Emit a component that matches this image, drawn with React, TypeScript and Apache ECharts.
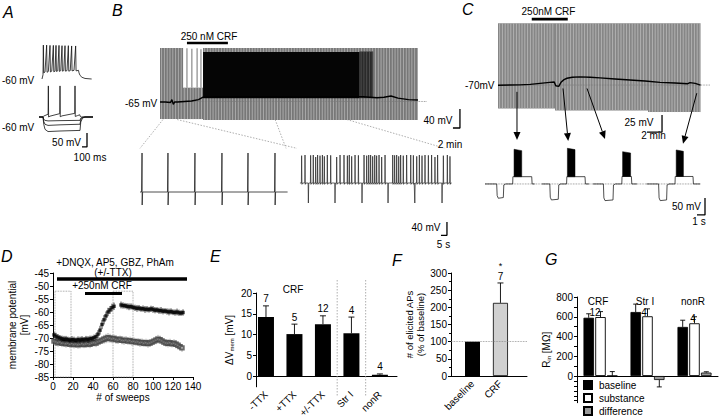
import React, { useEffect, useRef } from "react";
import * as echarts from "echarts";

const FONT = "'Liberation Sans', Arial, Helvetica, sans-serif";

/* ---------------- Panel A : responses to current steps (ms, mV) ---------------- */
const aTopT = [140,160,167,175,200,233,241,267,300,308,335,367,375,400,420,428,455,480,488,515,540,548,575,600,608,640,667,675,705,733,741,780,813,821,870,880,900,940,1000,1133];
const aTopV = [-60,-45,61,-38,-35,61,-36,-33,60,-35,-32,60,-34,-32,60,-33,-31,60,-33,-30,59,-32,-30,59,-32,-30,59,-32,-30,58,-31,-29,58,-31,-29,-38,-47,-54,-58,-60];
const aDepT = [80,160,170,262,267,272,300,495,500,505,540,795,800,805,850,895,905,930,1160];
const aDepV = [-60,-60,-57,-50,51,-60,-57,-48,51,-59,-56,-47,51,-58,-55,-52,-58,-60,-60];
const aHypT = [80,160,175,200,260,500,880,900,915,950,1000,1160];
const aHyp1V = [-60,-60,-68,-72,-74,-73,-72,-72,-64,-61,-60,-60];
const aHyp2V = [-60,-60,-76,-86,-90,-88,-86,-86,-70,-62,-60,-60];
const aHyp3V = [-60,-60,-86,-104,-112,-110,-108,-108,-78,-64,-60,-60];
const aScaleMv = 50;
const aScaleMs = 100;

/* ---------------- Panel B : long recording (min, mV) ---------------- */
const bBaseT = [0,1.5,3,3.4,3.8,4.2,5,7,9,11,12.3,14,20,30,40,50,58,62,64,66,68,71,73.7];
const bBaseV = [-66,-66,-67,-61,-71,-66,-66,-65,-64,-61,-56,-55.5,-55,-55,-55.5,-55,-55,-57,-56,-53.5,-58,-61,-62];
const bGrayRegions = [[0,6.6,-102,47.5],[6.6,12.3,-102,-36],[12.3,73.7,-104,47.5]];
const bSparseSpikes = [[7.7,-36,47],[9.1,-36,46],[10.6,-36,47],[11.7,-36,45]];
const bBlackRegions = [[12.3,57,-58,39]];
const bDarkRegions = [[57,60.9,-58,40]];
const bRestV = -65;
const bCrf = [7.7, 19.4];
const bScaleMv = 40;
const bScaleMin = 2;
const bZoomFromT = [0.86, 4.9, 32.9, 53.4];
const bZoomFromV = -103;
const bZoomToT = [0, 130.8, 121.7, 254.2];
const bZoomToV = 66;
/* B expanded traces (s, mV) */
const bLeftBaseV = -65;
const bLeftEnd = 123;
const bLeftSpikeT = [1.7, 23.3, 45.8, 68.3, 90, 112.5];
const bLeftPeak = 52;
const bLeftTrough = -104;
const bRightStart = 133.3;
const bRightEnd = 259.7;
const bRightBaseV = -38;
const bRightPulseT = [140.3, 162.5, 185, 206.7, 229, 251.7];
const bRightPulseV = -98;
const bRightSpikeT = [134.7,137.5,142.2,144.4,146.4,148,150,152,153.6,156.1,158.9,163.9,166.7,170,172.8,174.4,176.4,179.2,182,186.7,188.9,190.6,192.2,193.9,195.6,197.2,199.2,201.4,204.2,210.6,212.2,213.9,215.6,217.2,219.4,222.2,225.6,227.8,230.6,232.8,235,237.5,240.3,243,245.8,248,252.8,256.1,258.3];
const bRightSpikeV = [44,46,45,46,40,46,44,46,42,46,45,40,46,46,44,46,42,46,45,46,44,46,46,42,46,44,46,40,46,46,45,46,42,46,44,46,46,45,42,46,44,46,45,46,40,46,44,46,42];
const bScale2Mv = 40;
const bScale2S = 5;

/* ---------------- Panel C (min, mV) / sweeps (s, mV) ---------------- */
const cGrayRegions = [[0,7.6,-104.3,20.7],[7.6,20,-107.4,20.7],[20,27,-109.8,20.7]];
const cBaseT = [0,1.6,2.9,4.3,5.6,6.9,7.5,7.7,8.1,8.4,8.8,9.2,9.9,10.9,12.3,13.6,15.6,17.6,19.6,21.6,23.6,25.3,25.6,26.3,27];
const cBaseV = [-70.2,-70,-69.8,-69,-67.5,-66,-65.5,-71,-72,-66,-62,-60,-58.5,-58,-58.5,-59.5,-61,-62.5,-64,-66,-67,-68,-66.5,-67.5,-70];
const cRestV = -70;
const cCrf = [4.5, 9.3];
const cScaleMv = 25;
const cScaleMin = 2;
const cArrowFromT = [2.53, 8.67, 11.87, 26.5];
const cArrowFromV = [-80, -75, -75, -82];
const cArrowToT = [4.0, 10.4, 15.0, 24.75];
const cArrowToV = [59, 56, 62, 48];
const cSweepStart = [0, 7.1, 13.5, 20.2];
const cSweepEnd = [6.2, 13.0, 19.0, 26.9];
const cHypStart = [1.46, 8.1, 14.8, 21.7];
const cHypEnd = [2.29, 9.16, 16.0, 22.7];
const cHypV = [-112, -117, -119, -119];
const cDepStart = [3.46, 10.2, 17.1, 23.75];
const cDepEnd = [5.84, 12.5, 18.3, 26.0];
const cDepV = [-48.6, -48.6, -48, -48];
const cBurstStart = [3.63, 10.3, 17.2, 23.9];
const cBurstEnd = [4.59, 11.25, 18.2, 24.8];
const cBurstTop = [32, 35, 25, 30];
const cScale2Mv = 50;
const cScale2S = 1;

/* ---------------- Panel D : membrane potential vs sweeps ---------------- */
const dBlackX = [1,3,5,7,9,11,13,15,17,19,21,23,25,27,29,31,33,35,37,39,41,43,45,47,49,51,53,55,57,59,61,68,70,72,74,76,78,80,82,84,86,88,90,92,94,96,98,100,102,104,106,108,110,112,114,116,118,120,122,124,126,128,130];
const dBlackY = [-68.8,-69.3,-69.7,-70.0,-70.3,-70.5,-70.4,-70.6,-70.8,-70.6,-70.7,-70.9,-70.6,-70.8,-70.5,-70.7,-70.4,-70.6,-70.3,-70.2,-69.9,-69.5,-68.5,-67.0,-64.8,-63.0,-61.5,-60.0,-59.2,-58.3,-57.8,-57.3,-57.5,-57.6,-57.8,-58.0,-57.9,-58.2,-58.4,-58.6,-58.5,-58.8,-58.7,-59.0,-58.9,-59.1,-58.8,-59.0,-59.3,-59.2,-59.5,-59.4,-59.7,-59.6,-59.8,-60.0,-59.8,-60.1,-60.2,-60.0,-60.3,-60.4,-60.2];
const dBlackErr = [1.2,1.3,1.2,1.1,1.2,1.3,1.2,1.1,1.2,1.3,1.2,1.1,1.2,1.3,1.2,1.1,1.2,1.3,1.2,1.1,1.2,1.3,1.5,1.7,1.8,1.8,1.7,1.6,1.5,1.5,1.4,1.3,1.2,1.1,1.2,1.3,1.2,1.1,1.2,1.3,1.2,1.1,1.2,1.3,1.2,1.1,1.2,1.3,1.2,1.1,1.2,1.3,1.2,1.1,1.2,1.3,1.2,1.1,1.2,1.3,1.2,1.1,1.2];
const dGrayX = [1,3,5,7,9,11,13,15,17,19,21,23,25,27,29,31,33,35,37,39,41,43,45,47,49,51,53,55,57,59,61,63,65,67,69,71,73,75,77,79,81,83,85,87,89,91,93,95,97,99,101,103,105,107,109,111,113,115,117,119,121,123,125,127,129];
const dGrayY = [-71.2,-71.5,-71.8,-71.6,-72.0,-71.8,-72.2,-72.0,-72.4,-72.1,-72.5,-72.3,-72.6,-72.4,-72.2,-72.5,-72.3,-72.1,-72.4,-72.0,-71.8,-71.9,-71.5,-71.2,-70.8,-70.5,-70.2,-69.9,-70.1,-70.4,-70.2,-70.6,-70.8,-70.5,-70.9,-71.0,-70.8,-71.2,-71.0,-71.4,-71.3,-71.6,-71.5,-71.8,-71.7,-72.0,-71.8,-72.1,-71.9,-71.6,-71.2,-70.8,-70.5,-70.7,-71.1,-71.6,-71.9,-72.0,-71.8,-72.2,-72.0,-72.4,-72.8,-73.3,-73.8];
const dGrayErr = [1.5,1.6,1.5,1.4,1.5,1.6,1.5,1.4,1.5,1.6,1.5,1.4,1.5,1.6,1.5,1.4,1.5,1.6,1.5,1.4,1.5,1.6,1.5,1.4,1.5,1.7,1.8,1.8,1.7,1.6,1.5,1.6,1.5,1.4,1.5,1.6,1.5,1.4,1.5,1.6,1.5,1.4,1.5,1.6,1.5,1.4,1.5,1.6,1.5,1.4,1.5,1.6,1.7,1.6,1.5,1.4,1.5,1.6,1.5,1.4,1.5,1.6,1.5,1.4,1.5];
const dDrug = [4, 134];
const dDrugV = -47.3;
const dCrf = [32, 69];
const dCrfV = -52.7;
const dBoxes = [[2, 18], [60, 80]];
const dBoxTop = -52;

/* ---------------- Panel E ---------------- */
const eCats = ["-TTX", "+TTX", "+/-TTX", "Str I", "nonR"];
const eValues = [14.2, 10.1, 12.5, 10.3, 0.3];
const eErrors = [2.7, 2.4, 2.0, 3.9, 0.2];
const eN = ["7", "5", "12", "4", "4"];
const eSeparators = [2.5, 3.5];

/* ---------------- Panel F ---------------- */
const fCats = ["baseline", "CRF"];
const fValues = [100, 213];
const fErrors = [0, 58];
const fN = ["", "7"];
const fSig = ["", "*"];

/* ---------------- Panel G ---------------- */
const gCats = ["CRF", "Str I", "nonR"];
const gN = ["12", "4", "4"];
const gBaseline = [590, 648, 497];
const gBaselineErr = [40, 80, 68];
const gSubstance = [597, 605, 534];
const gSubstanceErr = [55, 75, 66];
const gDifference = [3, -40, 35];
const gDifferenceErr = [42, 70, 8];

/* ---------------- helpers ---------------- */
const zip = (xs: number[], ys: number[]) => xs.map((x, i) => [x, ys[i]]);

function trace(g: number, data: any[], color = "#000", width = 0.8, type: any = "solid", z = 3): any {
  return {
    type: "line", xAxisIndex: g, yAxisIndex: g, data, symbol: "none", showSymbol: false,
    silent: true, z, lineStyle: { color, width, type }, connectNulls: false,
  };
}

function scaleBar(g: number, x: number, top: number, dy: number, dx: number): any {
  return trace(g, [[x, top], [x, top - dy], [x - dx, top - dy]], "#000", 1.3, "solid", 5);
}

function regions(g: number, data: number[][], fill: string, stripe: string | null, z = 1): any {
  return {
    type: "custom", coordinateSystem: "cartesian2d", xAxisIndex: g, yAxisIndex: g, silent: true, z, data,
    renderItem: (_p: any, api: any) => {
      const a = api.coord([api.value(0), api.value(3)]);
      const b = api.coord([api.value(1), api.value(2)]);
      const children: any[] = [
        { type: "rect", shape: { x: a[0], y: a[1], width: b[0] - a[0], height: b[1] - a[1] }, style: { fill } },
      ];
      if (stripe) {
        for (let x = a[0] + 1.6; x < b[0] - 0.4; x += 2.8) {
          children.push({ type: "line", shape: { x1: x, y1: a[1], x2: x, y2: b[1] }, style: { stroke: stripe, lineWidth: 0.8 } });
        }
      }
      return { type: "group", children };
    },
  };
}

function strokes(g: number, data: number[][], color: string, width: number, z = 2): any {
  return {
    type: "custom", coordinateSystem: "cartesian2d", xAxisIndex: g, yAxisIndex: g, silent: true, z, data,
    renderItem: (_p: any, api: any) => {
      const a = api.coord([api.value(0), api.value(1)]);
      const b = api.coord([api.value(0), api.value(2)]);
      return { type: "line", shape: { x1: a[0], y1: a[1], x2: b[0], y2: b[1] }, style: { stroke: color, lineWidth: width } };
    },
  };
}

function bursts(g: number, data: number[][]): any {
  return {
    type: "custom", coordinateSystem: "cartesian2d", xAxisIndex: g, yAxisIndex: g, silent: true, z: 4, data,
    renderItem: (_p: any, api: any) => {
      const t0 = api.value(0), t1 = api.value(1), lo = api.value(2), hi = api.value(3);
      const pts = [api.coord([t0, lo]), api.coord([t0, hi]), api.coord([t1, hi - 4]), api.coord([t1, lo])];
      return { type: "polygon", shape: { points: pts }, style: { fill: "#000", stroke: "#000", lineWidth: 0.5 } };
    },
  };
}

function vErr(g: number, xs: number[], ys: number[], es: number[], color: string, width: number, z = 2): any {
  return {
    type: "custom", coordinateSystem: "cartesian2d", xAxisIndex: g, yAxisIndex: g, silent: true, z,
    data: xs.map((x, i) => [x, ys[i], es[i]]),
    renderItem: (_p: any, api: any) => {
      const x = api.value(0), y = api.value(1), e = api.value(2);
      const a = api.coord([x, y - e]);
      const b = api.coord([x, y + e]);
      return { type: "line", shape: { x1: a[0], y1: a[1], x2: b[0], y2: b[1] }, style: { stroke: color, lineWidth: width } };
    },
  };
}

function barErr(g: number, values: number[], errs: number[], offset: number, cap: number, labels: string[] | null, labels2: string[] | null, gap: number): any {
  return {
    type: "custom", coordinateSystem: "cartesian2d", xAxisIndex: g, yAxisIndex: g, silent: true, z: 6,
    data: values.map((v, i) => [i, v, errs[i]]),
    renderItem: (p: any, api: any) => {
      const i = p.dataIndex;
      const x = api.value(0), v = api.value(1), e = api.value(2);
      const dir = v < 0 ? -1 : 1;
      const p0 = api.coord([x, v]);
      const p1 = api.coord([x, v + dir * e]);
      const cx = p0[0] + offset;
      const children: any[] = [];
      const st = { stroke: "#000", lineWidth: 0.9 };
      if (e > 0) {
        children.push({ type: "line", shape: { x1: cx, y1: p0[1], x2: cx, y2: p1[1] }, style: st });
        children.push({ type: "line", shape: { x1: cx - cap, y1: p1[1], x2: cx + cap, y2: p1[1] }, style: st });
      }
      if (labels && labels[i]) {
        children.push({ type: "text", style: { text: labels[i], x: cx, y: p1[1] - gap, align: "center", verticalAlign: "middle", fontSize: 10, fontFamily: FONT, fill: "#000" } });
      }
      if (labels2 && labels2[i]) {
        children.push({ type: "text", style: { text: labels2[i], x: cx, y: p1[1] - gap - 11, align: "center", verticalAlign: "middle", fontSize: 9, fontFamily: FONT, fill: "#000" } });
      }
      return { type: "group", children };
    },
  };
}

function buildBLeft(): number[][] {
  const pts: number[][] = [[0, bLeftBaseV]];
  bLeftSpikeT.forEach((t) => {
    pts.push([t - 0.4, bLeftBaseV], [t, bLeftPeak], [t + 0.1, bLeftTrough], [t + 0.5, bLeftBaseV]);
  });
  pts.push([bLeftEnd, bLeftBaseV]);
  return pts;
}

function buildBRight(): number[][] {
  const ev: any[] = [];
  bRightSpikeT.forEach((t, i) => ev.push({ t, k: "s", v: bRightSpikeV[i] }));
  bRightPulseT.forEach((t) => ev.push({ t, k: "p", v: bRightPulseV }));
  ev.sort((a, b) => a.t - b.t);
  const pts: number[][] = [[bRightStart, bRightBaseV]];
  ev.forEach((e) => {
    if (e.k === "s") pts.push([e.t - 0.2, bRightBaseV], [e.t, e.v], [e.t + 0.25, bRightBaseV - 4], [e.t + 0.7, bRightBaseV]);
    else pts.push([e.t - 0.2, bRightBaseV], [e.t, e.v], [e.t + 0.3, bRightBaseV]);
  });
  pts.push([bRightEnd, bRightBaseV]);
  return pts;
}

function buildCSweep(i: number): number[][] {
  return [
    [cSweepStart[i], cRestV], [cHypStart[i], cRestV], [cHypStart[i] + 0.06, cHypV[i] + 8],
    [cHypStart[i] + 0.2, cHypV[i]], [cHypEnd[i], cHypV[i] + 2], [cHypEnd[i] + 0.06, cRestV - 3],
    [cHypEnd[i] + 0.3, cRestV], [cDepStart[i], cRestV], [cDepStart[i] + 0.03, cDepV[i]],
    [cDepEnd[i], cDepV[i]], [cDepEnd[i] + 0.05, cRestV], [cSweepEnd[i], cRestV],
  ];
}

const axBase = {
  axisLine: { show: true, onZero: false, lineStyle: { color: "#000", width: 1 } },
  axisTick: { show: true, length: 3, lineStyle: { color: "#000", width: 1 } },
  axisLabel: { color: "#000", fontSize: 10, fontFamily: FONT, margin: 4 },
  splitLine: { show: false },
  nameTextStyle: { color: "#000", fontSize: 10, fontFamily: FONT },
};

function buildOption(): any {
  const gridDefs = [
    { left: 35, top: 39.8, width: 65, height: 50.4 },
    { left: 35, top: 83.4, width: 65, height: 67.2 },
    { left: 160, top: 35.9, width: 308, height: 94.1 },
    { left: 140, top: 145, width: 320.4, height: 95 },
    { left: 498, top: 15, width: 213.75, height: 119.7 },
    { left: 485, top: 135, width: 224.8, height: 85 },
    { left: 53, top: 273, width: 140, height: 104 },
    { left: 256, top: 293, width: 141, height: 93.8 },
    { left: 451, top: 273, width: 76, height: 103 },
    { left: 577, top: 297, width: 141, height: 105.7 },
  ];
  const grid = gridDefs.map((g) => ({ ...g, containLabel: false, outerBoundsMode: "none" }));
  const hx = (g: number, min: number, max: number) => ({ type: "value", gridIndex: g, min, max, show: false });

  const xAxis: any[] = [
    hx(0, 0, 1300), hx(1, 0, 1300), hx(2, 0, 88), hx(3, 0, 267), hx(4, 0, 28.5), hx(5, 0, 28.1),
    {
      ...axBase, type: "value", gridIndex: 6, min: 0, max: 140, interval: 20,
      name: "# of sweeps", nameLocation: "middle", nameGap: 15,
    },
    {
      ...axBase, type: "value", gridIndex: 7, min: -0.35, max: 4.6,
      axisLine: { show: true, onZero: true, lineStyle: { color: "#000", width: 1 } },
      axisTick: { show: false },
      axisLabel: { ...axBase.axisLabel, rotate: 45, margin: 6, customValues: [0, 1, 2, 3, 4], formatter: (v: number) => eCats[Math.round(v)] ?? "" },
    },
    {
      ...axBase, type: "value", gridIndex: 8, min: -0.77, max: 1.95,
      axisLine: { show: true, onZero: true, lineStyle: { color: "#000", width: 1 } },
      axisTick: { show: false },
      axisLabel: { ...axBase.axisLabel, rotate: 45, margin: 6, customValues: [0, 1], formatter: (v: number) => fCats[Math.round(v)] ?? "" },
    },
    {
      ...axBase, type: "category", gridIndex: 9, data: gCats,
      axisLine: { show: true, onZero: true, lineStyle: { color: "#000", width: 1 } },
      axisTick: { show: false }, axisLabel: { show: false },
    },
  ];

  const hy = (g: number, min: number, max: number) => ({ type: "value", gridIndex: g, min, max, show: false });
  const yAxis: any[] = [
    hy(0, -100, 80), hy(1, -180, 60), hy(2, -125, 73), hy(3, -209, 76), hy(4, -143, 33), hy(5, -176, 74),
    {
      ...axBase, type: "value", gridIndex: 6, min: -85, max: -45, interval: 5,
      name: "membrane potential\n[mV]", nameLocation: "middle", nameGap: 21,
      nameTextStyle: { ...axBase.nameTextStyle, lineHeight: 12 },
    },
    {
      ...axBase, type: "value", gridIndex: 7, min: -2.6, max: 20,
      axisLabel: { ...axBase.axisLabel, customValues: [0, 5, 10, 15, 20] },
      axisTick: { ...axBase.axisTick, customValues: [0, 5, 10, 15, 20] },
      name: "{a|ΔV}{s|mem}{a| [mV]}", nameLocation: "middle", nameGap: 21,
      nameTextStyle: {
        rich: {
          a: { fontSize: 10, fontFamily: FONT, color: "#000" },
          s: { fontSize: 6, fontFamily: FONT, color: "#000", padding: [6, 0, 0, 0] },
        },
      },
    },
    {
      ...axBase, type: "value", gridIndex: 8, min: 0, max: 300, interval: 50,
      minorTick: { show: true, splitNumber: 2, length: 2, lineStyle: { color: "#000" } },
      name: "# of elicited APs\n(% of baseline)", nameLocation: "middle", nameGap: 25,
      nameTextStyle: { ...axBase.nameTextStyle, fontSize: 9.5, lineHeight: 11 },
    },
    {
      ...axBase, type: "value", gridIndex: 9, min: -270, max: 800,
      axisLabel: { ...axBase.axisLabel, customValues: [0, 200, 400, 600, 800] },
      axisTick: { ...axBase.axisTick, customValues: [-250, -200, -150, -100, -50, 0, 100, 200, 300, 400, 500, 600, 700, 800] },
      name: "{a|R}{s|in}{a| [MΩ]}", nameLocation: "middle", nameGap: 24,
      nameTextStyle: {
        rich: {
          a: { fontSize: 10, fontFamily: FONT, color: "#000" },
          s: { fontSize: 6, fontFamily: FONT, color: "#000", padding: [6, 0, 0, 0] },
        },
      },
    },
  ];

  const series: any[] = [];

  /* ---- A ---- */
  series.push(trace(0, zip(aTopT, aTopV), "#111", 0.8));
  series.push(trace(1, zip(aDepT, aDepV), "#111", 0.8));
  series.push(trace(1, zip(aHypT, aHyp1V), "#111", 0.8));
  series.push(trace(1, zip(aHypT, aHyp2V), "#111", 0.8));
  series.push(trace(1, zip(aHypT, aHyp3V), "#111", 0.8));
  series.push(scaleBar(1, 1040, -117, aScaleMv, aScaleMs));

  /* ---- B top ---- */
  series.push(regions(2, bGrayRegions, "#777777", "#b8b8b8", 1));
  series.push(strokes(2, bSparseSpikes, "#8a8a8a", 1.2, 1));
  series.push(regions(2, bBlackRegions, "#050505", null, 2));
  series.push(regions(2, bDarkRegions, "#2a2a2a", "#555", 2));
  series.push(trace(2, [[0, bRestV], [76.3, bRestV]], "#777", 0.8, "dotted", 2));
  series.push(trace(2, zip(bBaseT, bBaseV), "#000", 1.4, "solid", 4));
  series.push(trace(2, [[bCrf[0], 58.2], [bCrf[1], 58.2]], "#000", 2.6, "solid", 4));
  series.push(scaleBar(2, 85.7, -80.8, bScaleMv, bScaleMin));

  /* ---- B bottom ---- */
  series.push(trace(3, buildBLeft(), "#222", 0.8));
  series.push(trace(3, buildBRight(), "#222", 0.7));
  series.push(scaleBar(3, 255.8, -155, bScale2Mv, bScale2S));

  /* ---- C top ---- */
  series.push(regions(4, cGrayRegions, "#868686", "#bdbdbd", 1));
  series.push(trace(4, [[0, cRestV], [28.3, cRestV]], "#777", 0.8, "dotted", 2));
  series.push(trace(4, zip(cBaseT, cBaseV), "#000", 1.4, "solid", 4));
  series.push(trace(4, [[cCrf[0], 27], [cCrf[1], 27]], "#000", 2.6, "solid", 4));
  series.push(scaleBar(4, 21.87, -114.1, cScaleMv, cScaleMin));

  /* ---- C bottom ---- */
  series.push(trace(5, [[0, cRestV], [26.9, cRestV]], "#777", 0.8, "dotted", 2));
  cSweepStart.forEach((_s, i) => series.push(trace(5, buildCSweep(i), "#222", 0.8)));
  series.push(bursts(5, cBurstStart.map((s, i) => [s, cBurstEnd[i], cDepV[i], cBurstTop[i]])));
  series.push(scaleBar(5, 27.5, -111, cScale2Mv, cScale2S));

  /* ---- D ---- */
  series.push(vErr(6, dGrayX, dGrayY, dGrayErr, "#888", 0.8, 2));
  series.push({
    type: "scatter", xAxisIndex: 6, yAxisIndex: 6, data: zip(dGrayX, dGrayY), symbol: "emptyRect", symbolSize: 3.4,
    itemStyle: { color: "#444", borderColor: "#444", borderWidth: 0.7 }, silent: true, z: 3,
    markLine: {
      silent: true, symbol: ["none", "none"], label: { show: false },
      data: [
        [{ coord: [dDrug[0], dDrugV], lineStyle: { color: "#000", width: 3.5, type: "solid" } }, { coord: [dDrug[1], dDrugV] }],
        [{ coord: [dCrf[0], dCrfV], lineStyle: { color: "#000", width: 3, type: "solid" } }, { coord: [dCrf[1], dCrfV] }],
      ],
    },
    markArea: {
      silent: true,
      itemStyle: { color: "rgba(0,0,0,0)", borderColor: "#888", borderWidth: 0.8, borderType: "dotted" },
      data: dBoxes.map((b) => [{ coord: [b[0], dBoxTop] }, { coord: [b[1], -85] }]),
    },
  });
  series.push(vErr(6, dBlackX, dBlackY, dBlackErr, "#000", 0.8, 4));
  series.push({
    type: "scatter", xAxisIndex: 6, yAxisIndex: 6, data: zip(dBlackX, dBlackY), symbol: "rect", symbolSize: 3.4,
    itemStyle: { color: "#000" }, silent: true, z: 5,
  });

  /* ---- E ---- */
  series.push({
    type: "bar", xAxisIndex: 7, yAxisIndex: 7, data: eValues.map((v, i) => [i, v]), barWidth: 16,
    itemStyle: { color: "#000" }, silent: true, z: 3,
  });
  series.push(barErr(7, eValues, eErrors, 0, 3, eN, null, 7));

  /* ---- F ---- */
  series.push({
    type: "bar", xAxisIndex: 8, yAxisIndex: 8, barWidth: 15, silent: true, z: 3,
    data: fValues.map((v, i) => ({
      value: [i, v],
      itemStyle: i === 0 ? { color: "#000" } : { color: "#d0d0d0", borderColor: "#000", borderWidth: 0.8 },
    })),
    markLine: {
      silent: true, symbol: ["none", "none"], label: { show: false },
      lineStyle: { color: "#888", width: 0.8, type: "dotted" },
      data: [{ yAxis: 100 }],
    },
  });
  series.push(barErr(8, fValues, fErrors, 0, 3, fN, fSig, 6));

  /* ---- G ---- */
  const gBarCommon = { type: "bar", xAxisIndex: 9, yAxisIndex: 9, barWidth: 10.5, barGap: "12%", silent: true, z: 3 };
  series.push({ ...gBarCommon, name: "baseline", data: gBaseline, itemStyle: { color: "#000", borderColor: "#000", borderWidth: 0.8 } });
  series.push({ ...gBarCommon, name: "substance", data: gSubstance, itemStyle: { color: "#fff", borderColor: "#000", borderWidth: 0.9 } });
  series.push({ ...gBarCommon, name: "difference", data: gDifference, itemStyle: { color: "#9a9a9a", borderColor: "#000", borderWidth: 0.8 } });
  series.push(barErr(9, gBaseline, gBaselineErr, -11.8, 2.5, null, null, 0));
  series.push(barErr(9, gSubstance, gSubstanceErr, 0, 2.5, null, null, 0));
  series.push(barErr(9, gDifference, gDifferenceErr, 11.8, 2.5, null, null, 0));

  return {
    animation: false,
    backgroundColor: "#fff",
    textStyle: { fontFamily: FONT },
    grid, xAxis, yAxis, series,
    legend: {
      data: ["baseline", "substance", "difference"], orient: "vertical", left: 583, top: 380,
      itemWidth: 8, itemHeight: 8, itemGap: 3, icon: "rect", padding: 0, selectedMode: false,
      textStyle: { fontSize: 10, fontFamily: FONT, color: "#000", padding: [0, 0, 0, 2] },
    },
  };
}

function txt(text: string, x: number, y: number, align = "center", size = 10, extra: any = {}): any {
  return {
    type: "text", x, y, silent: true, z: 20,
    style: { text, fill: "#000", fontSize: size, fontFamily: FONT, align, verticalAlign: "middle", textAlign: align, textVerticalAlign: "middle", ...extra },
  };
}

function buildGraphics(chart: any): any[] {
  const px = (g: number, p: number[]) => chart.convertToPixel({ gridIndex: g }, p) as number[];
  const els: any[] = [];
  const letter = (t: string, x: number, y: number) => txt(t, x, y, "left", 16, { fontStyle: "italic" });
  els.push(letter("A", 3, 12), letter("B", 112, 10), letter("C", 462, 9), letter("D", 1, 256), letter("E", 210, 256), letter("F", 392, 260), letter("G", 545, 259));

  els.push(txt("-60 mV", 2, 80, "left"), txt("-60 mV", 2, 127, "left"), txt("50 mV", 81, 142, "right"), txt("100 ms", 90, 157));
  els.push(txt("250 nM CRF", 209, 36.5), txt("-65 mV", 125, 103, "left"), txt("40 mV", 438, 120), txt("2 min", 450, 144));
  els.push(txt("40 mV", 426, 227), txt("5 s", 443.5, 244));
  els.push(txt("250nM CRF", 548.5, 11.5), txt("-70mV", 465, 85, "left"), txt("25 mV", 639, 122), txt("2 min", 653.5, 135));
  els.push(txt("50 mV", 686.5, 206), txt("1 s", 699, 221));
  els.push(txt("+DNQX, AP5, GBZ, PhAm", 115, 262), txt("(+/-TTX)", 113, 272.5), txt("+250nM CRF", 102, 285));
  els.push(txt("CRF", 293, 289.5));
  els.push(txt("CRF", 598, 301), txt("Str I", 645, 301), txt("nonR", 693, 301));
  els.push(txt(gN[0], 595, 312), txt(gN[1], 644, 312), txt(gN[2], 693, 318));

  // B zoom connectors
  bZoomFromT.forEach((t, i) => {
    const a = px(2, [t, bZoomFromV]);
    const b = px(3, [bZoomToT[i], bZoomToV]);
    els.push({ type: "line", silent: true, z: 0, shape: { x1: a[0], y1: a[1], x2: b[0], y2: b[1] }, style: { stroke: "#999", lineWidth: 0.8, lineDash: [1.5, 1.5] } });
  });

  // C arrows
  cArrowFromT.forEach((t, i) => {
    const a = px(4, [t, cArrowFromV[i]]);
    const b = px(5, [cArrowToT[i], cArrowToV[i]]);
    const ang = Math.atan2(b[1] - a[1], b[0] - a[0]);
    const L = 8, W = 3.5;
    const bx = b[0] - L * Math.cos(ang), by = b[1] - L * Math.sin(ang);
    const nx = -Math.sin(ang) * W, ny = Math.cos(ang) * W;
    els.push({ type: "line", silent: true, z: 6, shape: { x1: a[0], y1: a[1], x2: bx, y2: by }, style: { stroke: "#000", lineWidth: 1 } });
    els.push({ type: "polygon", silent: true, z: 6, shape: { points: [[b[0], b[1]], [bx + nx, by + ny], [bx - nx, by - ny]] }, style: { fill: "#000" } });
  });

  // E separators
  eSeparators.forEach((x) => {
    const p = px(7, [x, 0]);
    els.push({ type: "line", silent: true, z: 1, shape: { x1: p[0], y1: p[1] - 96, x2: p[0], y2: p[1] + 21 }, style: { stroke: "#999", lineWidth: 0.8, lineDash: [1.5, 1.5] } });
  });
  return els;
}

export default function App() {
  const ref = useRef<HTMLDivElement>(null);
  useEffect(() => {
    const el = ref.current;
    if (!el) return;
    const chart = echarts.init(el, null, { renderer: "svg" });
    chart.setOption(buildOption());
    chart.setOption({ graphic: buildGraphics(chart) });
    return () => chart.dispose();
  }, []);
  return <div ref={ref} style={{ position: "absolute", left: 0, top: 0, width: 720, height: 418, background: "#fff" }} />;
}
